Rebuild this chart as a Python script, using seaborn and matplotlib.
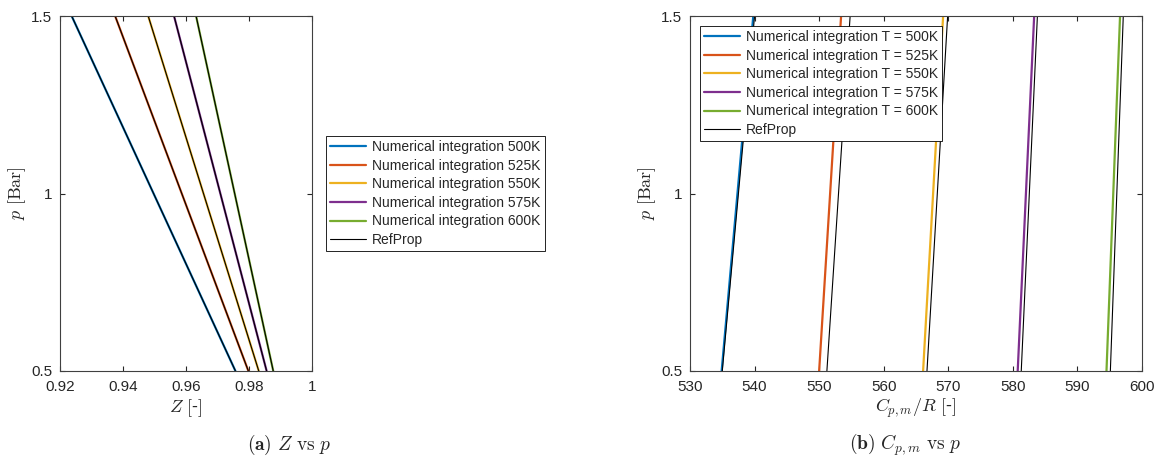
import matplotlib
matplotlib.use("Agg")
import matplotlib.pyplot as plt
import seaborn as sns
from matplotlib.ticker import FixedLocator, FixedFormatter

# ---------------- data ----------------
pressure = [0.5, 1.5]
temperatures = [500, 525, 550, 575, 600]

# compressibility factor Z (left panel)
z_num_500 = [0.9757, 0.9237]
z_num_525 = [0.9798, 0.9375]
z_num_550 = [0.9831, 0.9480]
z_num_575 = [0.9856, 0.9562]
z_num_600 = [0.9877, 0.9632]
z_ref_500 = [0.9757, 0.9237]
z_ref_525 = [0.9798, 0.9375]
z_ref_550 = [0.9831, 0.9480]
z_ref_575 = [0.9856, 0.9562]
z_ref_600 = [0.9877, 0.9632]

# Cp,m/R (right panel)
cp_num_500 = [534.9, 539.8]
cp_num_525 = [550.0, 553.4]
cp_num_550 = [566.1, 569.2]
cp_num_575 = [580.75, 583.3]
cp_num_600 = [594.5, 596.6]
cp_ref_500 = [535.0, 540.0]
cp_ref_525 = [551.2, 554.8]
cp_ref_550 = [566.7, 569.9]
cp_ref_575 = [581.3, 583.8]
cp_ref_600 = [595.1, 597.1]

z_ticks = [0.92, 0.94, 0.96, 0.98, 1.0]
z_tick_labels = ["0.92", "0.94", "0.96", "0.98", "1"]
cp_ticks = [530, 540, 550, 560, 570, 580, 590, 600]
cp_tick_labels = [str(t) for t in cp_ticks]
p_ticks = [0.5, 1.0, 1.5]
p_tick_labels = ["0.5", "1", "1.5"]

colors = ["#0072BD", "#D95319", "#EDB120", "#7E2F8E", "#77AC30"]

# ---------------- style ----------------
sns.set_theme(style="white")
plt.rcParams["font.family"] = ["Liberation Sans", "DejaVu Sans"]
plt.rcParams["mathtext.fontset"] = "cm"

fig = plt.figure(figsize=(11.58, 4.63), dpi=100)
W, H = 1158, 463
ax1 = fig.add_axes([60 / W, 1 - 371 / H, 252 / W, 355 / H])
ax2 = fig.add_axes([690 / W, 1 - 371 / H, 452 / W, 355 / H])

z_num = [z_num_500, z_num_525, z_num_550, z_num_575, z_num_600]
z_ref = [z_ref_500, z_ref_525, z_ref_550, z_ref_575, z_ref_600]
cp_num = [cp_num_500, cp_num_525, cp_num_550, cp_num_575, cp_num_600]
cp_ref = [cp_ref_500, cp_ref_525, cp_ref_550, cp_ref_575, cp_ref_600]

for i, T in enumerate(temperatures):
    sns.lineplot(x=z_num[i], y=pressure, ax=ax1, color=colors[i], lw=1.6,
                 sort=False, estimator=None, label=f"Numerical integration {T}K")
for i, T in enumerate(temperatures):
    sns.lineplot(x=z_ref[i], y=pressure, ax=ax1, color="black", lw=0.8,
                 sort=False, estimator=None, label="RefProp" if i == 0 else None)

for i, T in enumerate(temperatures):
    sns.lineplot(x=cp_num[i], y=pressure, ax=ax2, color=colors[i], lw=1.6,
                 sort=False, estimator=None, label=f"Numerical integration T = {T}K")
for i, T in enumerate(temperatures):
    sns.lineplot(x=cp_ref[i], y=pressure, ax=ax2, color="black", lw=0.8,
                 sort=False, estimator=None, label="RefProp" if i == 0 else None)

def style_axes(ax, xlim, xticks, xlabels, xlabel):
    ax.set_xlim(*xlim)
    ax.set_ylim(0.5, 1.5)
    ax.xaxis.set_major_locator(FixedLocator(xticks))
    ax.xaxis.set_major_formatter(FixedFormatter(xlabels))
    ax.yaxis.set_major_locator(FixedLocator(p_ticks))
    ax.yaxis.set_major_formatter(FixedFormatter(p_tick_labels))
    ax.tick_params(direction="in", length=3.5, width=0.8, colors="#262626",
                   labelsize=11, top=True, right=True, bottom=True, left=True)
    ax.tick_params(axis="x", pad=6.5)
    ax.tick_params(axis="y", pad=5.5)
    for s in ax.spines.values():
        s.set_color("#404040")
        s.set_linewidth(0.8)
    ax.set_xlabel(xlabel, fontsize=13, color="#262626", labelpad=2)
    ax.set_ylabel(r"$p\ [\mathrm{Bar}]$", fontsize=13, color="#262626", labelpad=2)

style_axes(ax1, (0.92, 1.0), z_ticks, z_tick_labels, r"$Z\ [$-$]$")
style_axes(ax2, (530, 600), cp_ticks, cp_tick_labels, r"$C_{p,m}/R\ [$-$]$")

leg_kw = dict(fontsize=10, frameon=True, fancybox=False, framealpha=1,
              edgecolor="black", handlelength=2.6, handletextpad=0.4,
              labelspacing=0.33, borderpad=0.3, borderaxespad=0)
h1, l1 = ax1.get_legend_handles_labels()
leg1 = ax1.legend(h1, l1, loc="center left",
                  bbox_to_anchor=(326 / W, 1 - 193.5 / H),
                  bbox_transform=fig.transFigure, **leg_kw)
leg1.get_frame().set_linewidth(0.6)
h2, l2 = ax2.get_legend_handles_labels()
leg2 = ax2.legend(h2, l2, loc="upper left",
                  bbox_to_anchor=(700 / W, 1 - 26 / H),
                  bbox_transform=fig.transFigure, **leg_kw)
leg2.get_frame().set_linewidth(0.6)

fig.text(289 / W, 1 - 445 / H, r"$\mathbf{(a)}\ Z\ \mathrm{vs}\ p$",
         ha="center", va="center", fontsize=14)
fig.text(905 / W, 1 - 445 / H, r"$\mathbf{(b)}\ C_{p,m}\ \mathrm{vs}\ p$",
         ha="center", va="center", fontsize=14)

fig.savefig("out.png", dpi=100)
